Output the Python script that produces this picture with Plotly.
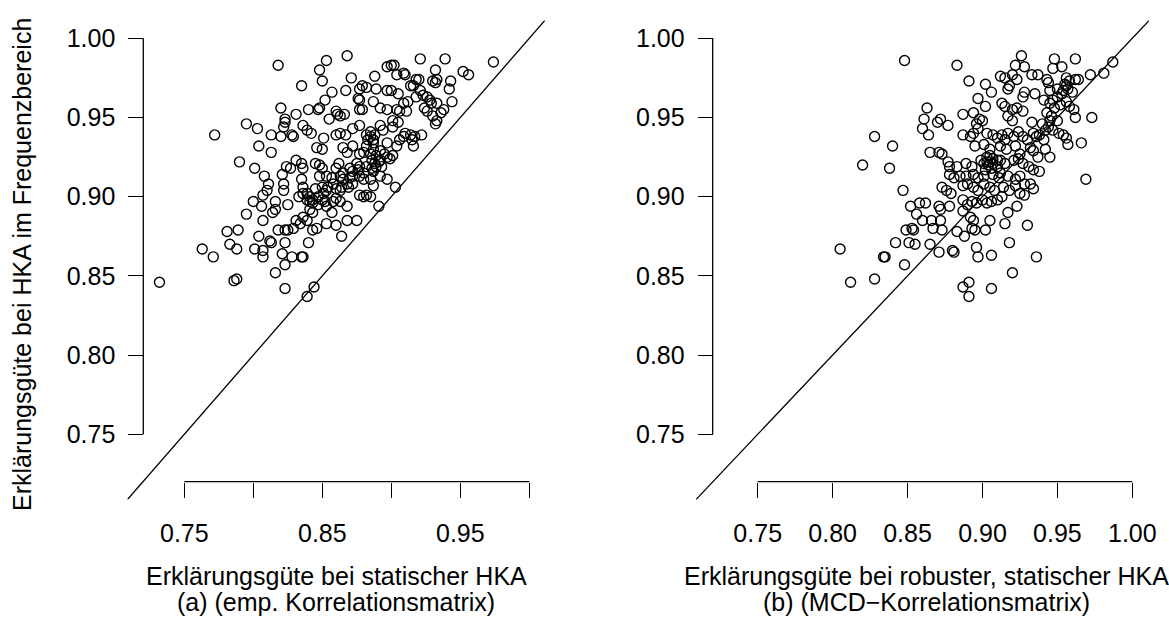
import plotly.graph_objects as go

# ---------------- data ----------------
# Panel (a): x = static PCA (emp. correlation), y = frequency-domain PCA
x_emp = [0.868, 0.853, 0.818, 0.848, 0.850, 0.835, 0.921, 0.939, 0.974, 0.897,
         0.900, 0.902, 0.932, 0.909, 0.910, 0.904, 0.888, 0.871, 0.952, 0.956,
         0.918, 0.920, 0.930, 0.933, 0.932, 0.943, 0.914, 0.916, 0.857, 0.867,
         0.879, 0.882, 0.877, 0.889, 0.897, 0.900, 0.905, 0.942, 0.921, 0.923,
         0.918, 0.926, 0.876, 0.877, 0.852, 0.928, 0.933, 0.929, 0.944, 0.887,
         0.909, 0.912, 0.848, 0.847, 0.820, 0.840, 0.860, 0.861, 0.863, 0.866,
         0.855, 0.877, 0.879, 0.892, 0.897, 0.904, 0.906, 0.911, 0.924, 0.926,
         0.938, 0.936, 0.933, 0.930, 0.932, 0.831, 0.823, 0.823, 0.795, 0.822,
         0.836, 0.839, 0.842, 0.803, 0.813, 0.820, 0.828, 0.829, 0.851, 0.860,
         0.863, 0.867, 0.872, 0.877, 0.882, 0.883, 0.885, 0.887, 0.892, 0.894,
         0.901, 0.905, 0.901, 0.910, 0.909, 0.914, 0.915, 0.917, 0.922, 0.906,
         0.904, 0.897, 0.916, 0.772, 0.804, 0.813, 0.846, 0.850, 0.865, 0.868,
         0.872, 0.877, 0.880, 0.887, 0.889, 0.892, 0.897, 0.899, 0.901, 0.790,
         0.801, 0.808, 0.824, 0.827, 0.831, 0.835, 0.836, 0.845, 0.848, 0.850,
         0.862, 0.860, 0.870, 0.872, 0.876, 0.882, 0.886, 0.887, 0.889, 0.892,
         0.877, 0.880, 0.885, 0.887, 0.897, 0.903, 0.821, 0.835, 0.848, 0.853,
         0.857, 0.863, 0.865, 0.868, 0.869, 0.872, 0.811, 0.822, 0.836, 0.845,
         0.850, 0.853, 0.860, 0.863, 0.810, 0.807, 0.816, 0.822, 0.800, 0.806,
         0.816, 0.814, 0.825, 0.833, 0.836, 0.839, 0.841, 0.843, 0.847, 0.850,
         0.852, 0.853, 0.858, 0.860, 0.863, 0.877, 0.880, 0.882, 0.885, 0.891,
         0.868, 0.795, 0.789, 0.781, 0.804, 0.807, 0.831, 0.834, 0.836, 0.839,
         0.841, 0.843, 0.857, 0.868, 0.875, 0.818, 0.823, 0.825, 0.829, 0.843,
         0.846, 0.853, 0.860, 0.864, 0.812, 0.813, 0.783, 0.788, 0.763, 0.771,
         0.801, 0.807, 0.807, 0.821, 0.823, 0.828, 0.835, 0.836, 0.840, 0.823,
         0.816, 0.786, 0.788, 0.732, 0.823, 0.844, 0.839, 0.882, 0.885, 0.886,
         0.888, 0.891, 0.893, 0.875, 0.877, 0.880, 0.872, 0.870, 0.865, 0.864,
         0.858, 0.854, 0.851, 0.847, 0.843, 0.841, 0.839, 0.887, 0.885, 0.888,
         0.892, 0.895]
y_emp_freq = [0.989, 0.986, 0.983, 0.980, 0.973, 0.970, 0.987, 0.987, 0.985, 0.982,
              0.983, 0.983, 0.980, 0.978, 0.977, 0.977, 0.976, 0.975, 0.979, 0.977,
              0.974, 0.974, 0.973, 0.974, 0.972, 0.973, 0.970, 0.970, 0.966, 0.967,
              0.970, 0.969, 0.968, 0.968, 0.967, 0.967, 0.965, 0.968, 0.967, 0.964,
              0.963, 0.963, 0.962, 0.961, 0.961, 0.961, 0.959, 0.959, 0.960, 0.960,
              0.959, 0.960, 0.956, 0.955, 0.956, 0.955, 0.954, 0.952, 0.951, 0.952,
              0.949, 0.955, 0.955, 0.956, 0.955, 0.955, 0.954, 0.954, 0.956, 0.954,
              0.955, 0.953, 0.948, 0.951, 0.946, 0.952, 0.949, 0.947, 0.946, 0.944,
              0.945, 0.942, 0.940, 0.943, 0.939, 0.938, 0.939, 0.938, 0.937, 0.939,
              0.940, 0.939, 0.943, 0.945, 0.939, 0.936, 0.938, 0.934, 0.945, 0.942,
              0.948, 0.947, 0.944, 0.940, 0.938, 0.939, 0.936, 0.938, 0.939, 0.936,
              0.932, 0.934, 0.932, 0.939, 0.932, 0.928, 0.931, 0.930, 0.931, 0.928,
              0.932, 0.927, 0.928, 0.930, 0.926, 0.923, 0.925, 0.924, 0.926, 0.922,
              0.918, 0.913, 0.919, 0.918, 0.923, 0.921, 0.918, 0.921, 0.920, 0.918,
              0.921, 0.918, 0.918, 0.916, 0.917, 0.919, 0.918, 0.916, 0.919, 0.913,
              0.913, 0.911, 0.911, 0.907, 0.911, 0.906, 0.914, 0.911, 0.913, 0.913,
              0.912, 0.913, 0.911, 0.908, 0.906, 0.908, 0.908, 0.908, 0.906, 0.905,
              0.906, 0.904, 0.905, 0.904, 0.904, 0.901, 0.897, 0.904, 0.897, 0.894,
              0.892, 0.890, 0.895, 0.900, 0.902, 0.898, 0.897, 0.896, 0.895, 0.898,
              0.897, 0.894, 0.897, 0.899, 0.897, 0.901, 0.900, 0.901, 0.900, 0.894,
              0.894, 0.889, 0.879, 0.878, 0.875, 0.885, 0.885, 0.883, 0.887, 0.885,
              0.892, 0.890, 0.890, 0.885, 0.885, 0.879, 0.879, 0.879, 0.880, 0.879,
              0.880, 0.883, 0.882, 0.875, 0.872, 0.871, 0.870, 0.867, 0.867, 0.862,
              0.867, 0.866, 0.862, 0.864, 0.871, 0.862, 0.862, 0.862, 0.871, 0.857,
              0.852, 0.847, 0.848, 0.846, 0.842, 0.843, 0.837, 0.932, 0.927, 0.923,
              0.921, 0.922, 0.919, 0.921, 0.919, 0.915, 0.913, 0.912, 0.915, 0.906,
              0.908, 0.906, 0.902, 0.900, 0.898, 0.900, 0.902, 0.936, 0.941, 0.939,
              0.929, 0.927]

# Panel (b): x = robust static PCA (MCD correlation), y = frequency-domain PCA
x_mcd = [0.848, 0.926, 0.948, 0.962, 0.883, 0.922, 0.928, 0.987, 0.981, 0.972,
         0.947, 0.953, 0.891, 0.912, 0.915, 0.920, 0.923, 0.933, 0.937, 0.943,
         0.944, 0.956, 0.958, 0.962, 0.964, 0.902, 0.906, 0.917, 0.918, 0.935,
         0.928, 0.927, 0.945, 0.950, 0.954, 0.956, 0.960, 0.897, 0.902, 0.863,
         0.861, 0.860, 0.864, 0.872, 0.870, 0.877, 0.887, 0.894, 0.898, 0.896,
         0.900, 0.913, 0.915, 0.920, 0.923, 0.927, 0.917, 0.920, 0.933, 0.941,
         0.945, 0.948, 0.952, 0.956, 0.958, 0.961, 0.962, 0.943, 0.946, 0.950,
         0.973, 0.828, 0.840, 0.820, 0.838, 0.887, 0.892, 0.894, 0.897, 0.903,
         0.907, 0.910, 0.913, 0.915, 0.917, 0.921, 0.924, 0.927, 0.930, 0.934,
         0.936, 0.938, 0.941, 0.944, 0.947, 0.951, 0.954, 0.956, 0.957, 0.966,
         0.865, 0.871, 0.873, 0.895, 0.901, 0.905, 0.912, 0.916, 0.922, 0.925,
         0.932, 0.934, 0.937, 0.942, 0.945, 0.877, 0.878, 0.883, 0.889, 0.893,
         0.899, 0.903, 0.905, 0.907, 0.910, 0.906, 0.904, 0.902, 0.912, 0.915,
         0.921, 0.924, 0.927, 0.931, 0.934, 0.938, 0.969, 0.878, 0.881, 0.885,
         0.889, 0.894, 0.897, 0.901, 0.907, 0.911, 0.912, 0.917, 0.922, 0.925,
         0.928, 0.932, 0.934, 0.847, 0.873, 0.876, 0.879, 0.887, 0.890, 0.894,
         0.897, 0.901, 0.905, 0.908, 0.914, 0.918, 0.922, 0.925, 0.928, 0.852,
         0.858, 0.862, 0.871, 0.872, 0.878, 0.887, 0.890, 0.893, 0.896, 0.900,
         0.903, 0.906, 0.910, 0.913, 0.917, 0.923, 0.856, 0.860, 0.866, 0.872,
         0.887, 0.892, 0.894, 0.905, 0.915, 0.930, 0.849, 0.854, 0.853, 0.867,
         0.873, 0.883, 0.888, 0.893, 0.895, 0.902, 0.842, 0.851, 0.855, 0.865,
         0.871, 0.880, 0.881, 0.896, 0.918, 0.805, 0.834, 0.835, 0.848, 0.897,
         0.906, 0.936, 0.920, 0.812, 0.828, 0.887, 0.891, 0.891, 0.906, 0.907,
         0.903, 0.905, 0.901, 0.910, 0.955, 0.957, 0.953, 0.950, 0.947, 0.945,
         0.942, 0.940]
y_mcd_freq = [0.986, 0.989, 0.987, 0.987, 0.983, 0.983, 0.982, 0.985, 0.978, 0.977,
              0.981, 0.982, 0.973, 0.976, 0.975, 0.977, 0.974, 0.977, 0.977, 0.974,
              0.972, 0.975, 0.973, 0.974, 0.974, 0.971, 0.966, 0.968, 0.970, 0.965,
              0.966, 0.963, 0.967, 0.968, 0.967, 0.970, 0.966, 0.962, 0.957, 0.956,
              0.949, 0.943, 0.939, 0.949, 0.947, 0.945, 0.952, 0.953, 0.949, 0.946,
              0.948, 0.959, 0.957, 0.955, 0.956, 0.954, 0.951, 0.948, 0.947, 0.961,
              0.959, 0.956, 0.958, 0.960, 0.957, 0.955, 0.950, 0.953, 0.951, 0.948,
              0.950, 0.938, 0.932, 0.920, 0.918, 0.939, 0.938, 0.940, 0.943, 0.940,
              0.939, 0.937, 0.939, 0.936, 0.940, 0.938, 0.941, 0.938, 0.936, 0.940,
              0.938, 0.939, 0.936, 0.944, 0.942, 0.940, 0.939, 0.937, 0.933, 0.934,
              0.928, 0.928, 0.927, 0.932, 0.933, 0.930, 0.932, 0.930, 0.932, 0.927,
              0.931, 0.929, 0.925, 0.930, 0.925, 0.922, 0.919, 0.919, 0.921, 0.919,
              0.923, 0.925, 0.922, 0.921, 0.919, 0.918, 0.920, 0.917, 0.923, 0.921,
              0.923, 0.924, 0.921, 0.919, 0.917, 0.916, 0.911, 0.914, 0.912, 0.913,
              0.913, 0.914, 0.912, 0.913, 0.914, 0.912, 0.915, 0.913, 0.911, 0.913,
              0.908, 0.908, 0.905, 0.904, 0.906, 0.904, 0.902, 0.907, 0.908, 0.906,
              0.904, 0.908, 0.906, 0.904, 0.906, 0.904, 0.907, 0.902, 0.901, 0.894,
              0.896, 0.896, 0.894, 0.892, 0.894, 0.898, 0.895, 0.897, 0.896, 0.898,
              0.896, 0.897, 0.898, 0.900, 0.890, 0.894, 0.889, 0.885, 0.885, 0.885,
              0.891, 0.887, 0.885, 0.885, 0.883, 0.882, 0.879, 0.879, 0.880, 0.880,
              0.879, 0.878, 0.875, 0.880, 0.879, 0.879, 0.871, 0.871, 0.870, 0.870,
              0.865, 0.866, 0.865, 0.868, 0.871, 0.867, 0.862, 0.862, 0.857, 0.862,
              0.863, 0.862, 0.852, 0.846, 0.848, 0.843, 0.846, 0.837, 0.842, 0.924,
              0.922, 0.926, 0.921, 0.923, 0.971, 0.968, 0.965, 0.963, 0.961, 0.948,
              0.942, 0.946]

tick_vals = [0.75, 0.80, 0.85, 0.90, 0.95, 1.00]
x_ticktext_a = ["0.75", "", "0.85", "", "0.95", ""]
x_ticktext_b = ["0.75", "0.80", "0.85", "0.90", "0.95", "1.00"]
y_ticktext = ["0.75", "0.80", "0.85", "0.90", "0.95", "1.00"]
axis_range = [0.7088, 1.0112]
identity_line = [0.70, 1.02]

y_title = "Erklärungsgüte bei HKA im Frequenzbereich"
x_title_a = ["Erklärungsgüte bei statischer HKA", "(a) (emp. Korrelationsmatrix)"]
x_title_b = ["Erklärungsgüte bei robuster, statischer HKA", "(b) (MCD\u2212Korrelationsmatrix)"]

# ---------------- layout geometry (pixels) ----------------
W, H = 1169, 620
FONT_FAMILY = "Liberation Sans, Arial, Helvetica, sans-serif"
FS = 25
font = dict(family=FONT_FAMILY, size=FS, color="black")

dom_a = [127.44 / W, 544.76 / W]
dom_b = [695.97 / W, 1149.08 / W]
dom_y = [1 - 499.56 / H, 1 - 20.56 / H]
xaxis_pos = 1 - 481.7 / H
yaxis_pos_a = 143.3 / W
yaxis_pos_b = 712.7 / W

marker = dict(symbol="circle-open", size=10, color="black", line=dict(width=1.4, color="black"))
LW = 1.3

fig = go.Figure()
fig.add_trace(go.Scatter(x=x_emp, y=y_emp_freq, mode="markers", marker=marker,
                         xaxis="x", yaxis="y", showlegend=False, hoverinfo="skip"))
fig.add_trace(go.Scatter(x=identity_line, y=identity_line, mode="lines",
                         line=dict(color="black", width=LW), xaxis="x", yaxis="y",
                         showlegend=False, hoverinfo="skip"))
fig.add_trace(go.Scatter(x=x_mcd, y=y_mcd_freq, mode="markers", marker=marker,
                         xaxis="x2", yaxis="y2", showlegend=False, hoverinfo="skip"))
fig.add_trace(go.Scatter(x=identity_line, y=identity_line, mode="lines",
                         line=dict(color="black", width=LW), xaxis="x2", yaxis="y2",
                         showlegend=False, hoverinfo="skip"))

common = dict(range=axis_range, showgrid=False, zeroline=False, showline=False,
              ticks="outside", ticklen=15, tickwidth=LW, tickcolor="black",
              tickvals=tick_vals, tickfont=font, anchor="free", automargin=False)

fig.update_layout(
    width=W, height=H,
    margin=dict(l=0, r=0, t=0, b=0, pad=0),
    paper_bgcolor="white", plot_bgcolor="rgba(0,0,0,0)",
    font=font,
    xaxis=dict(domain=dom_a, position=xaxis_pos, ticktext=x_ticktext_a,
               ticklabelstandoff=14, **common),
    yaxis=dict(domain=dom_y, position=yaxis_pos_a, ticktext=y_ticktext,
               ticklabelstandoff=8, **common),
    xaxis2=dict(domain=dom_b, position=xaxis_pos, ticktext=x_ticktext_b,
                ticklabelstandoff=14, **common),
    yaxis2=dict(domain=dom_y, position=yaxis_pos_b, ticktext=y_ticktext,
                ticklabelstandoff=8, **common),
)

# R-style axis lines spanning first to last tick
shapes = []
for xr, yr, ypos in [("x", "y", yaxis_pos_a), ("x2", "y2", yaxis_pos_b)]:
    shapes.append(dict(type="line", xref=xr, yref="paper", x0=tick_vals[0], x1=tick_vals[-1],
                       y0=xaxis_pos, y1=xaxis_pos, line=dict(color="black", width=LW)))
    shapes.append(dict(type="line", xref="paper", yref=yr, x0=ypos, x1=ypos,
                       y0=tick_vals[0], y1=tick_vals[-1], line=dict(color="black", width=LW)))
fig.update_layout(shapes=shapes)

annotations = [
    dict(text=y_title, x=22 / W, y=1 - 265 / H, xref="paper", yref="paper",
         textangle=-90, showarrow=False, xanchor="center", yanchor="middle", font=font),
]
for center_px, lines in [((dom_a[0] + dom_a[1]) / 2, x_title_a), (926 / W, x_title_b)]:
    for line_text, ypx in zip(lines, [576, 602]):
        annotations.append(dict(text=line_text, x=center_px, y=1 - ypx / H,
                                xref="paper", yref="paper", showarrow=False,
                                xanchor="center", yanchor="middle", font=font))
fig.update_layout(annotations=annotations)

fig.write_html("out.html")
